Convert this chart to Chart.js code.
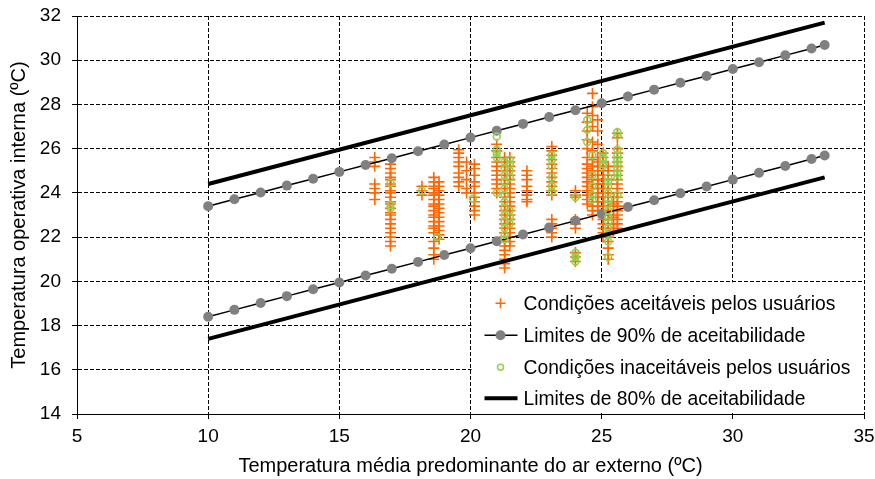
<!DOCTYPE html>
<html>
<head>
<meta charset="utf-8">
<script src="https://cdn.jsdelivr.net/npm/chart.js@4.4.1/dist/chart.umd.min.js"></script>
<style>
  html, body { margin: 0; padding: 0; background: #fff; }
  #wrap { width: 875px; height: 479px; }
</style>
</head>
<body>
<div id="wrap"><canvas id="chart"></canvas></div>
<script>
// limit lines (x = outdoor mean temperature)
const limitX = [10, 11, 12, 13, 14, 15, 16, 17, 18, 19, 20, 21, 22, 23, 24, 25, 26, 27, 28, 29, 30, 31, 32, 33, 33.5];
const upper90 = [23.4, 23.71, 24.02, 24.33, 24.64, 24.95, 25.26, 25.57, 25.88, 26.19, 26.5, 26.81, 27.12, 27.43, 27.74, 28.05, 28.36, 28.67, 28.98, 29.29, 29.6, 29.91, 30.22, 30.53, 30.69];
const lower90 = [18.4, 18.71, 19.02, 19.33, 19.64, 19.95, 20.26, 20.57, 20.88, 21.19, 21.5, 21.81, 22.12, 22.43, 22.74, 23.05, 23.36, 23.67, 23.98, 24.29, 24.6, 24.91, 25.22, 25.53, 25.69];
const limit80X = [10, 33.5];
const upper80 = [24.4, 31.7];
const lower80 = [17.4, 24.7];

// accepted conditions, one entry per column of measurements
const acceptX = [16.35, 16.95, 18.15, 18.6, 18.8, 19.55, 19.85, 20.15, 21.0, 21.3, 21.5, 22.15, 23.1, 24.0, 24.45, 24.65, 24.85, 25.05, 25.25, 25.45, 25.6];
const acceptY = [
  [25.6, 25.4, 25.2, 24.4, 24.2, 24.0, 23.7],
  [25.3, 25.1, 24.9, 24.7, 24.6, 24.4, 24.3, 24.1, 24.0, 23.8, 23.6, 23.5, 23.3, 23.1, 23.0, 22.8, 22.6, 22.4, 22.2, 22.0, 21.8, 21.6],
  [24.3, 24.1, 23.9],
  [24.7, 24.5, 24.3, 24.2, 24.0, 23.9, 23.7, 23.5, 23.4, 23.2, 23.0, 22.9, 22.7, 22.5, 22.4, 22.2, 21.8, 21.5, 21.2, 21.0],
  [24.5, 24.3, 24.1, 23.9, 23.7, 23.5, 23.3, 23.1, 22.9, 22.7, 22.5, 22.3, 22.1, 21.9],
  [25.95, 25.8, 25.6, 25.4, 25.2, 24.9, 24.7, 24.5, 24.3],
  [25.4, 25.0, 24.6, 24.2, 24.0],
  [25.3, 25.1, 24.8, 24.5, 24.3, 24.0, 23.8, 23.6, 23.4, 23.2, 23.0],
  [26.2, 25.9, 25.6, 25.4, 25.2, 25.0, 24.8, 24.6, 24.4, 24.2, 24.0],
  [25.6, 25.4, 25.2, 25.0, 24.8, 24.6, 24.4, 24.2, 24.0, 23.8, 23.6, 23.4, 23.2, 23.0, 22.8, 22.6, 22.4, 22.2, 22.0, 21.8, 21.6, 21.4, 21.2, 21.0, 20.8, 20.6],
  [25.6, 25.4, 25.2, 25.0, 24.8, 24.6, 24.4, 24.2, 24.0, 23.8, 23.6, 23.4, 23.2, 23.0, 22.8, 22.6, 22.4, 22.2, 22.0, 21.8, 21.6],
  [25.0, 24.8, 24.6, 24.3, 24.1, 23.9, 23.7, 23.6],
  [26.1, 25.9, 25.7, 25.5, 25.3, 25.1, 24.9, 24.7, 24.5, 24.3, 24.1, 23.9, 22.8, 22.6, 22.4, 22.2, 22.0],
  [24.1, 23.9, 23.8, 22.8, 22.6, 22.4, 21.3, 21.1, 20.9],
  [27.6, 27.2, 26.8, 26.4, 26.0, 25.6, 25.3, 25.1, 24.9, 24.7, 24.5, 24.3, 24.1, 23.9, 23.7, 23.5],
  [28.5, 27.9, 27.5, 27.0, 26.3, 25.9, 25.5, 25.2, 25.0, 24.8, 24.6, 24.4, 24.2, 24.0, 23.8, 23.6, 23.4, 23.2, 23.0],
  [27.3, 26.8, 26.2, 25.6, 25.4, 25.2, 25.0, 24.8, 24.6, 24.4, 24.2, 24.0, 23.8, 23.6, 23.4, 23.2],
  [25.8, 25.6, 25.4, 25.2, 25.0, 24.8, 24.6, 24.4, 24.2, 24.0, 23.8, 23.6, 23.4, 23.2, 23.0, 22.8, 22.6, 22.4, 22.2, 22.0],
  [25.2, 25.0, 24.8, 24.6, 24.4, 24.2, 24.0, 23.8, 23.6, 23.4, 23.2, 23.0, 22.8, 22.6, 22.4, 22.2, 22.0, 21.8, 21.5, 21.2, 21.0],
  [23.8, 23.5, 23.2, 22.9, 22.6, 22.3],
  [26.7, 26.5, 26.0, 25.8, 25.6, 25.4, 25.2, 25.0, 24.8, 24.6, 24.4, 24.2, 24.0, 23.8, 23.6, 23.4, 23.2, 23.0, 22.8, 22.6, 22.4]
];

// unaccepted conditions
const rejectX = [16.95, 18.15, 18.73, 20.1, 21.0, 21.3, 21.5, 23.1, 24.0, 24.45, 24.65, 25.05, 25.25, 25.6];
const rejectY = [
  [24.45, 23.45, 23.3],
  [24.1],
  [22.0],
  [23.75],
  [26.55, 25.95, 25.8, 25.6, 24.0],
  [25.4, 25.1, 24.8, 24.5, 24.2, 23.9, 23.6, 23.3, 23.0, 22.7, 22.4, 22.1, 21.9],
  [25.5, 25.3, 25.0, 24.7, 23.2, 22.9, 22.6],
  [25.7, 25.5, 25.2, 24.7, 24.3, 24.05],
  [23.8, 21.3, 21.1, 20.9],
  [27.3, 26.85, 26.3],
  [25.7, 24.8, 24.3, 23.9, 23.7],
  [25.8, 25.6, 25.5, 25.3, 25.2],
  [24.7, 24.5, 24.3, 24.0, 23.7, 23.5, 23.2, 22.9, 22.7, 22.4, 22.2, 21.8, 21.1],
  [26.75, 26.6, 25.95, 25.7, 25.5, 25.3, 25.1, 24.9, 24.7, 23.9]
];

const xTicks = [5, 10, 15, 20, 25, 30, 35];
const yTicks = [14, 16, 18, 20, 22, 24, 26, 28, 30, 32];

const legendLabels = [
  "Condições aceitáveis pelos usuários",
  "Limites de 90% de aceitabilidade",
  "Condições inaceitáveis pelos usuários",
  "Limites de 80% de aceitabilidade"
];

const orange = "#ff6600";
const green = "#92d050";
const gray = "#808080";

function columns(xs, ys) {
  const pts = [];
  xs.forEach((x, i) => ys[i].forEach((y) => pts.push({ x: x, y: y })));
  return pts;
}
function pairs(xs, ys) {
  return xs.map((x, i) => ({ x: x, y: ys[i] }));
}

// legend drawn inside the plot, over the lower right cells
const legendBox = {
  id: "legendBox",
  afterDatasetsDraw(chart) {
    const { ctx } = chart;
    const xs = chart.scales.x;
    const ys = chart.scales.y;
    const left = xs.getPixelForValue(20) + 1;
    const top = ys.getPixelForValue(20) + 1;
    const right = xs.getPixelForValue(35) - 1;
    const bottom = ys.getPixelForValue(14) - 1;
    ctx.save();
    ctx.fillStyle = "#fff";
    ctx.fillRect(left, top, right - left, bottom - top);

    const symX = left + 29;
    const textX = left + 52;
    const rows = [top + 21, top + 53, top + 85, top + 116];
    ctx.font = "19.3px 'Liberation Sans', Arial, sans-serif";
    ctx.textBaseline = "middle";
    ctx.textAlign = "left";

    // accepted
    ctx.strokeStyle = orange;
    ctx.lineWidth = 1.5;
    ctx.beginPath();
    ctx.moveTo(symX - 5, rows[0]); ctx.lineTo(symX + 5, rows[0]);
    ctx.moveTo(symX, rows[0] - 5); ctx.lineTo(symX, rows[0] + 5);
    ctx.stroke();

    // 90%
    ctx.strokeStyle = "#000";
    ctx.lineWidth = 1.5;
    ctx.beginPath();
    ctx.moveTo(symX - 16, rows[1]); ctx.lineTo(symX + 17, rows[1]);
    ctx.stroke();
    ctx.fillStyle = gray;
    ctx.beginPath();
    ctx.arc(symX, rows[1], 5, 0, Math.PI * 2);
    ctx.fill();

    // unaccepted
    ctx.strokeStyle = green;
    ctx.lineWidth = 1.5;
    ctx.beginPath();
    ctx.arc(symX, rows[2], 3, 0, Math.PI * 2);
    ctx.stroke();

    // 80%
    ctx.strokeStyle = "#000";
    ctx.lineWidth = 4;
    ctx.beginPath();
    ctx.moveTo(symX - 16, rows[3]); ctx.lineTo(symX + 17, rows[3]);
    ctx.stroke();

    ctx.fillStyle = "#000";
    legendLabels.forEach((t, i) => ctx.fillText(t, textX, rows[i] + 1));
    ctx.restore();
  }
};

Chart.defaults.font.family = "'Liberation Sans', Arial, sans-serif";
Chart.defaults.color = "#000";

const ctx = document.getElementById("chart").getContext("2d");
new Chart(ctx, {
  type: "scatter",
  data: {
    datasets: [
      {
        label: legendLabels[0],
        data: columns(acceptX, acceptY),
        pointStyle: "cross",
        pointRadius: 5.5,
        borderColor: orange,
        borderWidth: 1.6,
        order: 4
      },
      {
        label: legendLabels[1],
        data: pairs(limitX, upper90),
        showLine: true,
        borderColor: "#000",
        borderWidth: 1.5,
        pointRadius: 5,
        pointBorderWidth: 0,
        pointBackgroundColor: gray,
        order: 3
      },
      {
        label: legendLabels[1],
        data: pairs(limitX, lower90),
        showLine: true,
        borderColor: "#000",
        borderWidth: 1.5,
        pointRadius: 5,
        pointBorderWidth: 0,
        pointBackgroundColor: gray,
        order: 3
      },
      {
        label: legendLabels[2],
        data: columns(rejectX, rejectY),
        pointStyle: "circle",
        pointRadius: 3.4,
        borderColor: green,
        backgroundColor: "rgba(0,0,0,0)",
        borderWidth: 1.6,
        order: 2
      },
      {
        label: legendLabels[3],
        data: pairs(limit80X, upper80),
        showLine: true,
        borderColor: "#000",
        borderWidth: 4,
        pointRadius: 0,
        order: 1
      },
      {
        label: legendLabels[3],
        data: pairs(limit80X, lower80),
        showLine: true,
        borderColor: "#000",
        borderWidth: 4,
        pointRadius: 0,
        order: 1
      }
    ]
  },
  options: {
    responsive: true,
    maintainAspectRatio: false,
    animation: false,
    layout: { padding: { top: 16, right: 11, left: 0, bottom: 0 } },
    plugins: {
      legend: { display: false },
      tooltip: { enabled: false }
    },
    scales: {
      x: {
        type: "linear",
        min: 5,
        max: 35,
        afterBuildTicks: (scale) => { scale.ticks = xTicks.map((v) => ({ value: v })); },
        afterFit: (scale) => {
          scale.height = 65;
          scale.paddingLeft = 0;
          scale.paddingRight = 0;
        },
        ticks: { font: { size: 19 }, padding: 6 },
        grid: { color: "#000", lineWidth: 1, tickLength: 5, tickColor: "#000" },
        border: { color: "#000", width: 1, dash: [4, 2] },
        title: {
          display: true,
          text: "Temperatura média predominante do ar externo (ºC)",
          font: { size: 20 },
          padding: { top: 0, bottom: 1 }
        }
      },
      y: {
        type: "linear",
        min: 14,
        max: 32,
        afterBuildTicks: (scale) => { scale.ticks = yTicks.map((v) => ({ value: v })); },
        afterFit: (scale) => {
          scale.width = 77;
          scale.paddingTop = 0;
          scale.paddingBottom = 0;
        },
        ticks: { font: { size: 19 }, padding: 11 },
        grid: { color: "#000", lineWidth: 1, tickLength: 5, tickColor: "#000" },
        border: { color: "#000", width: 1, dash: [4, 2] },
        title: {
          display: true,
          text: "Temperatura operativa interna (ºC)",
          font: { size: 20 },
          padding: { top: 7, bottom: 0 }
        }
      }
    }
  },
  plugins: [legendBox]
});
</script>
</body>
</html>
